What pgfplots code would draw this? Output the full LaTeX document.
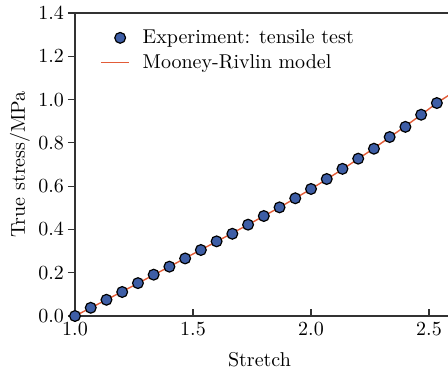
\documentclass[border=0pt]{standalone}
\usepackage{pgfplots}
\pgfplotsset{compat=1.18}
\definecolor{markfill}{RGB}{62,94,166}
\definecolor{modelline}{RGB}{226,92,56}
\definecolor{axisgray}{RGB}{50,50,50}
\pgfplotsset{
  markleg/.style={legend image code/.code={\draw[##1] plot coordinates {(0.335cm,0cm)}; \path (0cm,0cm) (0.49cm+4.5pt,0cm);}},
  lineleg/.style={legend image code/.code={\draw[##1] (0cm,0cm) -- (0.49cm,0cm); \path (0.49cm+4.5pt,0cm);}},
}
\begin{document}
\begin{tikzpicture}
\begin{axis}[
  scale only axis,
  width=188.8pt, height=151.5pt,
  at={(0,0)}, anchor=south west,
  xmin=1, xmax=2.6, ymin=0, ymax=1.4,
  xtick={1.0,1.5,2.0,2.5},
  ytick={0,0.2,0.4,0.6,0.8,1.0,1.2,1.4},
  xticklabel style={/pgf/number format/.cd,fixed,fixed zerofill,precision=1},
  yticklabel style={xshift=1.5pt,/pgf/number format/.cd,fixed,fixed zerofill,precision=1},
  tick pos=left,
  xtick align=inside,
  ytick align=outside,
  major tick length=3.5pt,
  axis line style={axisgray, line width=0.65pt},
  every tick/.style={axisgray, line width=0.6pt},
  xlabel={Stretch},
  ylabel={True stress/MPa},
  every axis x label/.style={at={(axis description cs:0,0)}, xshift=92.25pt, yshift=-22pt, anchor=center},
  every axis y label/.style={at={(axis description cs:0,0.5)}, xshift=-27.5pt, rotate=90, anchor=center},
  legend style={draw=none, fill=none, at={(axis description cs:0,1)}, xshift=9.5pt, yshift=-4pt, anchor=north west, row sep=0pt, font=\normalsize},
  legend cell align=left,
  clip=true,
]
\addplot[only marks, mark=*, mark size=2.7pt, mark options={fill=markfill, draw=black, line width=0.6pt}, markleg]
  coordinates {
  (1.0000,0.000) (1.0667,0.038) (1.1333,0.075) (1.2000,0.111)
  (1.2667,0.152) (1.3333,0.191) (1.4000,0.228) (1.4667,0.266)
  (1.5333,0.305) (1.6000,0.345) (1.6667,0.380) (1.7333,0.422)
  (1.8000,0.462) (1.8667,0.502) (1.9333,0.544) (2.0000,0.587)
  (2.0667,0.633) (2.1333,0.680) (2.2000,0.727) (2.2667,0.773)
  (2.3333,0.827) (2.4000,0.874) (2.4667,0.930) (2.5333,0.984)
  };
\addlegendentry{Experiment: tensile test}
\addplot[modelline, line width=0.7pt, mark=none, lineleg]
  coordinates {
  (1.0000,0.000) (1.0667,0.038) (1.1333,0.075) (1.2000,0.113)
  (1.2667,0.151) (1.3333,0.190) (1.4000,0.228) (1.4667,0.267)
  (1.5333,0.306) (1.6000,0.344) (1.6667,0.383) (1.7333,0.422)
  (1.8000,0.462) (1.8667,0.502) (1.9333,0.544) (2.0000,0.587)
  (2.0667,0.632) (2.1333,0.678) (2.2000,0.726) (2.2667,0.775)
  (2.3333,0.826) (2.4000,0.877) (2.4667,0.930) (2.5333,0.984)
  (2.6000,1.032)
  };
\addlegendentry{Mooney-Rivlin model}
\end{axis}
\pgfresetboundingbox
\path[use as bounding box] (-37.5pt,-28pt) rectangle (186.5pt,158pt);
\end{tikzpicture}
\end{document}
